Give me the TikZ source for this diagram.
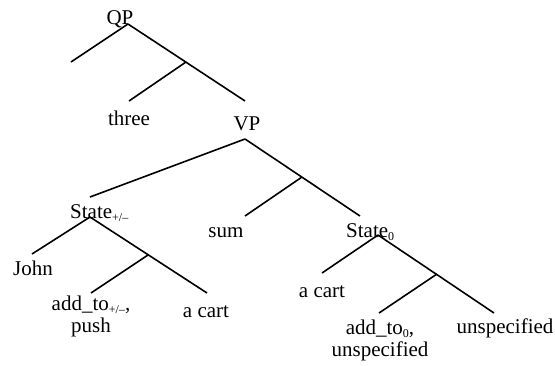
\documentclass[tikz,border=0pt]{standalone}
\usepackage{fontspec}
\setmainfont{Liberation Serif}
\usetikzlibrary{arrows, arrows.meta}
\tikzset{word/.style = {inner sep = 0pt, anchor = base, align = center, font = \fontsize{21}{22}\selectfont}}
\tikzset{branch/.style = {-, line width = 1.6pt}}
\newcommand{\lowsub}[1]{\raisebox{-0.4ex}{\fontsize{12}{12}\selectfont #1}}

\begin{document}
\begin{tikzpicture}[x = 1pt, y = -1pt]
				\useasboundingbox (0, 0) rectangle (555, 365);

				\node[word] (qp) at (120, 24) {QP};
				\node[word] (three) at (129, 125) {three};
				\node[word] (vp) at (247, 130) {VP};
				\node[word, anchor = base west] (stl) at (70, 218) {State\lowsub{+/–}};
				\node[word] (sum) at (226, 237) {sum};
				\node[word, anchor = base west] (stz) at (346, 237) {State\lowsub{0}};
				\node[word] (john) at (33, 275) {John};
				\node[word] (addl) at (91, 332) {add\_to\lowsub{+/–},\\push};
				\node[word] (cartl) at (206, 317) {a cart};
				\node[word] (cartr) at (322, 297) {a cart};
				\node[word] (addr) at (380, 356) {add\_to\lowsub{0},\\unspecified};
				\node[word] (unsp) at (505, 333) {unspecified};

				\coordinate (qp-root) at (128, 24);
				\coordinate (qp-gap) at (71, 62);
				\coordinate (qp-bar) at (186, 62);
				\coordinate (three-top) at (129, 101);
				\coordinate (vp-top) at (245, 101);
				\coordinate (vp-root) at (245, 139);
				\coordinate (vp-bar) at (302, 177);
				\coordinate (stl-top) at (90, 197);
				\coordinate (sum-top) at (245, 216);
				\coordinate (stz-top) at (360, 216);
				\coordinate (stl-root) at (90, 217);
				\coordinate (stl-bar) at (148, 255);
				\coordinate (john-top) at (32, 254);
				\coordinate (addl-top) at (91, 293);
				\coordinate (cartl-top) at (207, 293);
				\coordinate (stz-root) at (378, 235);
				\coordinate (stz-bar) at (437, 274);
				\coordinate (cartr-top) at (322, 273);
				\coordinate (addr-top) at (379, 313);
				\coordinate (unsp-top) at (494, 313);

				\draw[branch] (qp-root) to (qp-gap);
				\draw[branch] (qp-root) to (vp-top);
				\draw[branch] (qp-bar) to (three-top);
				\draw[branch] (vp-root) to (stl-top);
				\draw[branch] (vp-root) to (stz-top);
				\draw[branch] (vp-bar) to (sum-top);
				\draw[branch] (stl-root) to (john-top);
				\draw[branch] (stl-root) to (cartl-top);
				\draw[branch] (stl-bar) to (addl-top);
				\draw[branch] (stz-root) to (cartr-top);
				\draw[branch] (stz-root) to (unsp-top);
				\draw[branch] (stz-bar) to (addr-top);
			\end{tikzpicture}
\end{document}
